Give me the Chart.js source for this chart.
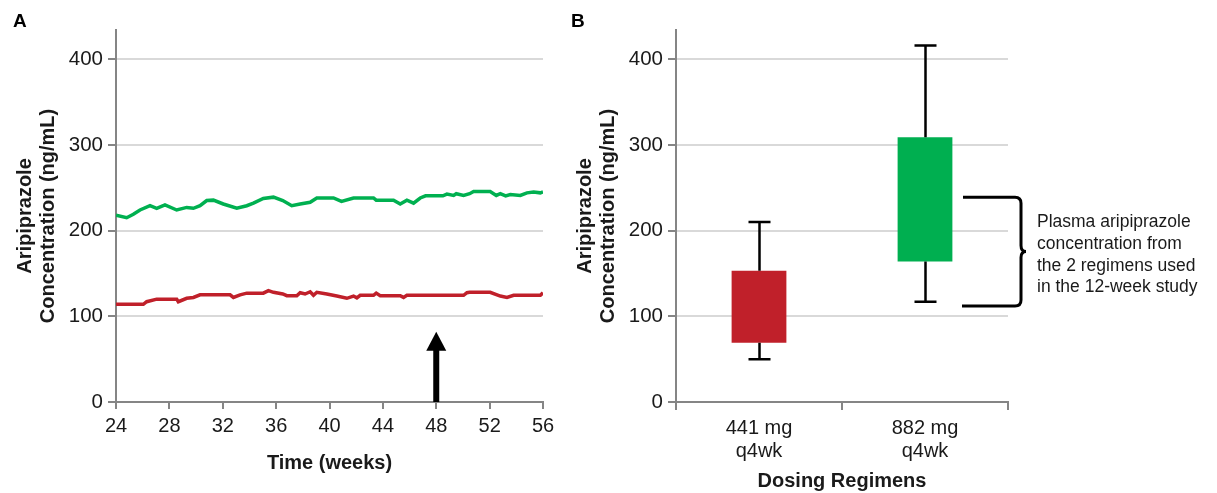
<!DOCTYPE html>
<html>
<head>
<meta charset="utf-8">
<script src="https://cdn.jsdelivr.net/npm/chart.js@4"></script>
<style>
  html, body { margin: 0; padding: 0; background: #fff; }
  body { width: 1217px; height: 493px; position: relative; overflow: hidden; font-family: "Liberation Sans", Arial, sans-serif; }
  #wrapA { position: absolute; left: 0; top: 0; width: 560px; height: 493px; }
  #wrapB { position: absolute; left: 560px; top: 0; width: 657px; height: 493px; }
  .panel { position: absolute; font-weight: bold; font-size: 19px; line-height: 22px; color: #000; }
  #note { position: absolute; left: 1037px; top: 211px; font-size: 17.5px; line-height: 21.8px; color: #1a1a1a; white-space: nowrap; }
</style>
</head>
<body>
<div id="wrapA"><canvas id="chartA" width="560" height="493"></canvas></div>
<div id="wrapB"><canvas id="chartB" width="657" height="493"></canvas></div>
<div class="panel" style="left:13px; top:10px;">A</div>
<div class="panel" style="left:571px; top:10px;">B</div>
<div id="note">Plasma aripiprazole<br>concentration from<br>the 2 regimens used<br>in the 12-week study</div>
<script>
// ---------- Data ----------
const greenWeeks = [24, 24.8, 25.3, 25.8, 26.55, 27.05, 27.67, 28.55, 29.3, 29.8, 30.3, 30.8, 31.3, 32.04, 33.05, 33.8, 34.3, 35.04, 35.8, 36.5, 37.17, 37.8, 38.55, 39.05, 40.3, 40.9, 41.8, 43.3, 43.5, 44.8, 45.3, 45.8, 46.3, 46.8, 47.2, 48.5, 48.8, 49.3, 49.5, 50.05, 50.5, 50.8, 52.04, 52.5, 52.8, 53.2, 53.55, 54.3, 54.8, 55.3, 55.8, 56];
const greenValues = [218, 215, 219, 224, 229, 226, 230, 224, 227, 226, 229, 235, 235.5, 231, 226, 229, 232, 237.5, 239, 235, 229, 231, 233, 238, 238, 234, 238, 238, 235.5, 235.5, 231, 235.5, 232, 238, 240.5, 240.5, 242.5, 241, 243, 241, 243, 245.5, 245.5, 241, 243, 240.5, 242, 241, 244, 245, 244, 245];
const redWeeks = [24, 26.05, 26.3, 27.05, 28.55, 28.67, 29.3, 29.8, 30.3, 32.55, 32.8, 33.3, 33.8, 35.04, 35.42, 35.8, 36.5, 36.8, 37.55, 37.8, 38.17, 38.55, 38.8, 39.05, 39.8, 40.55, 41.3, 41.8, 42.05, 42.3, 43.3, 43.5, 43.8, 45.3, 45.55, 45.8, 50.05, 50.3, 50.5, 52.04, 52.8, 53.3, 53.8, 55.8, 56];
const redValues = [114, 114, 117, 120, 120, 117, 121, 122, 125, 125, 122, 125, 127, 127, 130, 128, 126, 124, 124, 127.5, 126, 128.6, 124.5, 128, 126, 123.6, 121, 123.6, 121.5, 124.5, 124.5, 127, 124, 124, 122, 124.5, 124.5, 127.5, 128, 128, 123.6, 122, 124.5, 124.5, 127.5];
const weekTicks = [24, 28, 32, 36, 40, 44, 48, 52, 56];
const concTicks = [0, 100, 200, 300, 400];
const arrowWeek = 48;
const arrowTopValue = 82;

const regimens = [["441 mg", "q4wk"], ["882 mg", "q4wk"]];
const boxQ1 = [69, 164];
const boxQ3 = [153, 309];
const whiskerLow = [50, 117];
const whiskerHigh = [210, 416];
const braceTopValue = 239;
const braceBottomValue = 112;

// ---------- Styles ----------
const GREEN = '#00b050';
const RED = '#c0202a';
const AXIS = '#858585';
const GRID = '#d9d9d9';
const TXT = '#1a1a1a';
const FONT = '"Liberation Sans", Arial, sans-serif';
Chart.defaults.font.family = FONT;
Chart.defaults.color = TXT;

const yAxisCommon = {
  type: 'linear', min: 0, max: 434,
  afterBuildTicks: s => { s.ticks = concTicks.map(v => ({ value: v })); },
  afterFit: s => { s.width = 114; },
  border: { color: AXIS, width: 2 },
  grid: { color: GRID, lineWidth: 2, tickColor: AXIS, tickLength: 8, tickWidth: 2 },
  ticks: { font: { size: 20.5 }, padding: 5, color: TXT },
  title: { display: true, text: ['Aripiprazole', 'Concentration (ng/mL)'], font: { size: 20, weight: 'bold', lineHeight: '23px' }, padding: { top: 12, bottom: 0 }, color: TXT }
};

// ---------- Panel A ----------
const arrowPlugin = {
  id: 'arrow',
  afterDatasetsDraw(chart) {
    const { ctx, scales: { x, y } } = chart;
    const px = x.getPixelForValue(arrowWeek);
    const yb = y.getPixelForValue(0);
    const yt = y.getPixelForValue(arrowTopValue);
    const headLen = 19, headHalf = 10, shaft = 6;
    ctx.save();
    ctx.fillStyle = '#000';
    ctx.fillRect(px - shaft / 2, yt + headLen - 1, shaft, yb - (yt + headLen - 1));
    ctx.beginPath();
    ctx.moveTo(px, yt);
    ctx.lineTo(px + headHalf, yt + headLen);
    ctx.lineTo(px - headHalf, yt + headLen);
    ctx.closePath();
    ctx.fill();
    ctx.restore();
  }
};

new Chart(document.getElementById('chartA'), {
  type: 'line',
  data: {
    datasets: [
      { label: '882 mg', data: greenWeeks.map((w, i) => ({ x: w, y: greenValues[i] })), borderColor: GREEN, borderWidth: 3.5, pointRadius: 0, tension: 0 },
      { label: '441 mg', data: redWeeks.map((w, i) => ({ x: w, y: redValues[i] })), borderColor: RED, borderWidth: 3.5, pointRadius: 0, tension: 0 }
    ]
  },
  options: {
    responsive: false, animation: false,
    layout: { padding: { top: 30, right: 17, left: 2, bottom: 0 } },
    plugins: { legend: { display: false }, tooltip: { enabled: false } },
    scales: {
      x: {
        type: 'linear', min: 24, max: 56,
        afterBuildTicks: s => { s.ticks = weekTicks.map(v => ({ value: v })); },
        afterFit: s => { s.height = 91; },
        border: { color: AXIS, width: 2 },
        grid: { drawOnChartArea: false, color: AXIS, lineWidth: 2, tickLength: 7 },
        ticks: { font: { size: 20 }, padding: 5, color: TXT, maxRotation: 0 },
        title: { display: true, text: 'Time (weeks)', font: { size: 20, weight: 'bold' }, padding: { top: 0, bottom: 18 }, color: TXT }
      },
      y: yAxisCommon
    }
  },
  plugins: [arrowPlugin]
});

// ---------- Panel B ----------
const boxPlugin = {
  id: 'boxextras',
  afterDatasetsDraw(chart) {
    const { ctx, scales: { y }, chartArea } = chart;
    const meta = chart.getDatasetMeta(0);
    ctx.save();
    ctx.strokeStyle = '#000';
    ctx.lineWidth = 2.5;
    meta.data.forEach((bar, i) => {
      const cx = Math.round(bar.x) + 0.5;
      const lo = y.getPixelForValue(whiskerLow[i]);
      const hi = y.getPixelForValue(whiskerHigh[i]);
      const q1 = y.getPixelForValue(boxQ1[i]);
      const q3 = y.getPixelForValue(boxQ3[i]);
      ctx.beginPath();
      ctx.moveTo(cx, hi); ctx.lineTo(cx, q3);
      ctx.moveTo(cx, q1); ctx.lineTo(cx, lo);
      ctx.moveTo(cx - 11, hi); ctx.lineTo(cx + 11, hi);
      ctx.moveTo(cx - 11, lo); ctx.lineTo(cx + 11, lo);
      ctx.stroke();
    });
    // brace
    const yt = y.getPixelForValue(braceTopValue);
    const yb = y.getPixelForValue(braceBottomValue);
    const ym = (yt + yb) / 2;
    const xl = chartArea.right - 45;
    const xv = chartArea.right + 13;
    const r = 6;
    ctx.lineWidth = 3;
    ctx.beginPath();
    ctx.moveTo(xl, yt);
    ctx.lineTo(xv - r, yt);
    ctx.quadraticCurveTo(xv, yt, xv, yt + r);
    ctx.lineTo(xv, ym - 6);
    ctx.quadraticCurveTo(xv, ym, xv + 5, ym);
    ctx.quadraticCurveTo(xv, ym, xv, ym + 6);
    ctx.lineTo(xv, yb - r);
    ctx.quadraticCurveTo(xv, yb, xv - r, yb);
    ctx.lineTo(xl - 1, yb);
    ctx.stroke();
    ctx.restore();
  }
};

new Chart(document.getElementById('chartB'), {
  type: 'bar',
  data: {
    labels: regimens,
    datasets: [{
      data: boxQ1.map((q, i) => [q, boxQ3[i]]),
      backgroundColor: [RED, '#00af50'],
      borderWidth: 0,
      barPercentage: 0.33, categoryPercentage: 1
    }]
  },
  options: {
    responsive: false, animation: false,
    layout: { padding: { top: 30, right: 209, left: 2, bottom: 0 } },
    plugins: { legend: { display: false }, tooltip: { enabled: false } },
    scales: {
      x: {
        type: 'category', offset: true,
        afterFit: s => { s.height = 91; },
        border: { color: AXIS, width: 2 },
        grid: { offset: true, drawOnChartArea: false, color: AXIS, lineWidth: 2, tickLength: 8 },
        ticks: { font: { size: 20, lineHeight: '23px' }, padding: 7, color: TXT, maxRotation: 0 },
        title: { display: true, text: 'Dosing Regimens', font: { size: 20, weight: 'bold' }, padding: { top: 0, bottom: 0 }, color: TXT }
      },
      y: yAxisCommon
    }
  },
  plugins: [boxPlugin]
});
</script>
</body>
</html>
